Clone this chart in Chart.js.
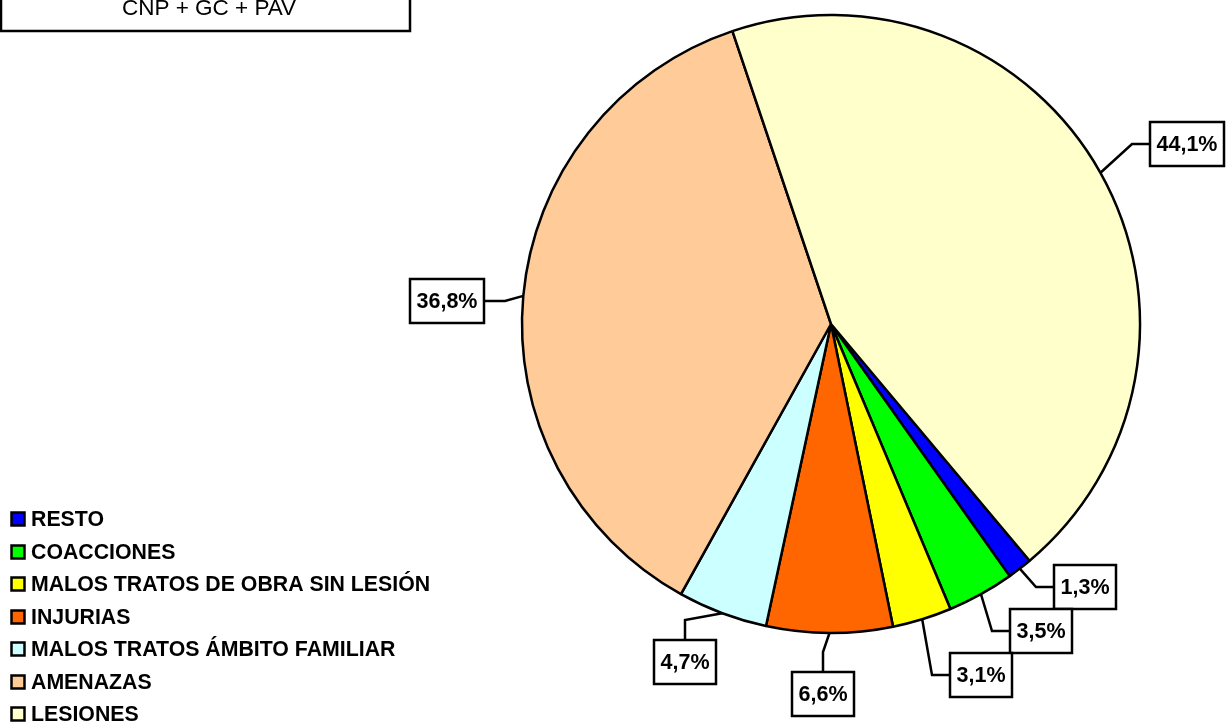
<!DOCTYPE html>
<html>
<head>
<meta charset="utf-8">
<script src="https://cdn.jsdelivr.net/npm/chart.js@4"></script>
<style>
  html, body { margin: 0; padding: 0; background: #ffffff; }
  #wrap { width: 1228px; height: 724px; position: relative; }
</style>
</head>
<body>
<div id="wrap"><canvas id="c"></canvas></div>
<script>
// Share of each offence type (%), in legend order
const categories = [
  'RESTO',
  'COACCIONES',
  'MALOS TRATOS DE OBRA SIN LESIÓN',
  'INJURIAS',
  'MALOS TRATOS ÁMBITO FAMILIAR',
  'AMENAZAS',
  'LESIONES'
];
const shares = [1.3, 3.5, 3.1, 6.6, 4.7, 36.8, 44.1];
const sliceColors = ['#0000FF', '#00FF00', '#FFFF00', '#FF6600', '#CCFFFF', '#FFCC99', '#FFFFCC'];
const titleText = 'CNP + GC + PAV';

// Value-label placement: box centre relative to the slice's outer midpoint,
// and which side of the box the leader line enters from
const labelOffsets = [[65, 18], [60, 37], [59, 56], [-6, 61], [-37, 49], [-76, 5], [87, -29]];
const labelSides = ['left', 'left', 'left', 'top', 'top', 'right', 'left'];

const FONT = "'Liberation Sans', Arial, sans-serif";

const fmtPct = v => v.toFixed(1).replace('.', ',') + '%';

// Framed title in the upper-left corner
const titleBox = {
  id: 'titleBox',
  afterDraw(chart) {
    const ctx = chart.ctx;
    ctx.save();
    ctx.lineWidth = 2.5;
    ctx.strokeStyle = '#000';
    ctx.fillStyle = '#fff';
    ctx.beginPath();
    ctx.rect(1, -12, 409, 43);
    ctx.fill();
    ctx.stroke();
    ctx.fillStyle = '#000';
    ctx.font = '22.5px ' + FONT;
    ctx.textAlign = 'center';
    ctx.textBaseline = 'alphabetic';
    ctx.fillText(titleText, 209, 15);
    ctx.restore();
  }
};

// Vertical legend in the lower-left corner
const cornerLegend = {
  id: 'cornerLegend',
  afterDraw(chart) {
    const ctx = chart.ctx;
    const labels = chart.data.labels;
    const colors = chart.data.datasets[0].backgroundColor;
    ctx.save();
    ctx.font = 'bold 21.3px ' + FONT;
    ctx.textBaseline = 'middle';
    ctx.textAlign = 'left';
    labels.forEach((lab, i) => {
      const y = Math.round(519 + i * 32.5);
      ctx.fillStyle = colors[i];
      ctx.fillRect(11.5, y - 6.5, 13, 13);
      ctx.lineWidth = 2.5;
      ctx.strokeStyle = '#000';
      ctx.strokeRect(11.5, y - 6.5, 13, 13);
      ctx.fillStyle = '#000';
      ctx.fillText(lab, 31, y + 1);
    });
    ctx.restore();
  }
};

// Boxed percentage labels joined to their slices by elbow leader lines
const boxedLabels = {
  id: 'boxedLabels',
  afterDatasetsDraw(chart) {
    const ctx = chart.ctx;
    const meta = chart.getDatasetMeta(0);
    const values = chart.data.datasets[0].data;
    ctx.save();
    ctx.font = 'bold 21.5px ' + FONT;
    ctx.textAlign = 'center';
    ctx.textBaseline = 'middle';
    ctx.lineWidth = 2.5;
    ctx.strokeStyle = '#000';
    meta.data.forEach((arc, i) => {
      const p = arc.getProps(['x', 'y', 'startAngle', 'endAngle', 'outerRadius'], true);
      const mid = (p.startAngle + p.endAngle) / 2;
      const ax = p.x + Math.cos(mid) * p.outerRadius;
      const ay = p.y + Math.sin(mid) * p.outerRadius;
      const text = fmtPct(values[i]);
      const w = Math.round(ctx.measureText(text).width + 13);
      const h = 44;
      const cx = Math.round(ax + labelOffsets[i][0]);
      const cy = Math.round(ay + labelOffsets[i][1]);
      const left = Math.round(cx - w / 2), top = Math.round(cy - h / 2);
      let ex, ey, tx, ty;
      if (labelSides[i] === 'left') {
        tx = left; ty = cy; ex = left - 18; ey = cy;
      } else if (labelSides[i] === 'right') {
        tx = left + w; ty = cy; ex = left + w + 21; ey = cy;
      } else {
        tx = cx; ty = top; ex = cx; ey = top - 20;
      }
      ctx.beginPath();
      ctx.moveTo(ax, ay);
      ctx.lineTo(ex, ey);
      ctx.lineTo(tx, ty);
      ctx.stroke();
      ctx.fillStyle = '#fff';
      ctx.beginPath();
      ctx.rect(left, top, w, h);
      ctx.fill();
      ctx.stroke();
      ctx.fillStyle = '#000';
      ctx.fillText(text, left + w / 2, cy + 1);
    });
    ctx.restore();
  }
};

new Chart(document.getElementById('c'), {
  type: 'pie',
  data: {
    labels: categories,
    datasets: [{
      data: shares,
      backgroundColor: sliceColors,
      borderColor: '#000',
      borderWidth: 2.5
    }]
  },
  options: {
    responsive: true,
    maintainAspectRatio: false,
    animation: false,
    events: [],
    rotation: 140,
    radius: 309,
    layout: { padding: { left: 521, right: 87, top: 15, bottom: 91 } },
    plugins: {
      legend: { display: false },
      tooltip: { enabled: false }
    }
  },
  plugins: [titleBox, cornerLegend, boxedLabels]
});
</script>
</body>
</html>
